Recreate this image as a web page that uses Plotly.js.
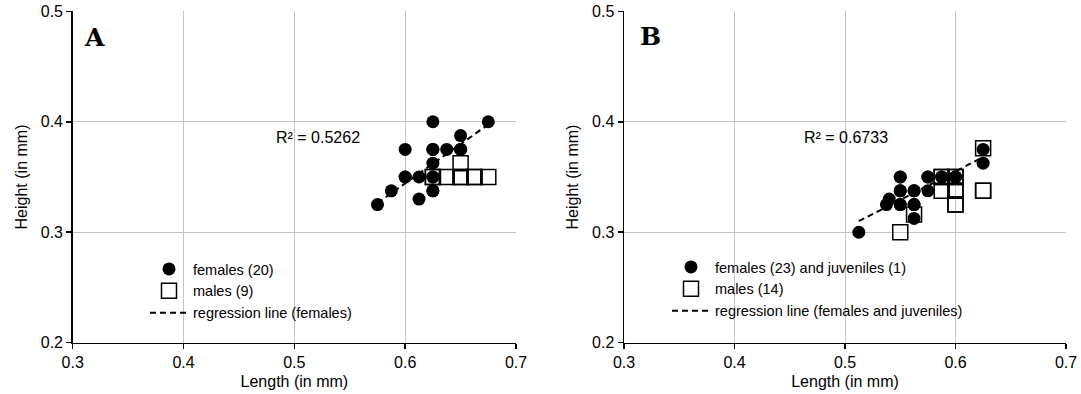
<!DOCTYPE html>
<html>
<head>
<meta charset="utf-8">
<script src="https://cdn.plot.ly/plotly-3.0.1.min.js"></script>
<style>html,body{margin:0;padding:0;background:#fff;}#chart{width:1081px;height:394px;}</style>
</head>
<body>
<div id="chart"></div>
<script>
// Panel A data
const femalesA_len = [0.575, 0.5875, 0.6, 0.6, 0.6125, 0.6125, 0.625, 0.625, 0.625, 0.625, 0.625, 0.6375, 0.65, 0.65, 0.675, 0.625, 0.6, 0.625, 0.625, 0.65];
const femalesA_ht  = [0.325, 0.3375, 0.35, 0.375, 0.35, 0.33, 0.3375, 0.35, 0.3625, 0.375, 0.4, 0.375, 0.375, 0.3875, 0.4, 0.35, 0.35, 0.375, 0.3375, 0.375];
const malesA_len = [0.625, 0.6375, 0.65, 0.6625, 0.675, 0.65, 0.65, 0.6625, 0.625];
const malesA_ht  = [0.35, 0.35, 0.35, 0.35, 0.35, 0.3625, 0.35, 0.35, 0.35];
const regA_len = [0.575, 0.675];
const regA_ht  = [0.3265, 0.3975];
const r2A = "R² = 0.5262";

// Panel B data
const femalesB_len = [0.5125, 0.5375, 0.54, 0.55, 0.55, 0.55, 0.5625, 0.5625, 0.5625, 0.575, 0.575, 0.5875, 0.6, 0.625, 0.625, 0.55, 0.55, 0.5625, 0.575, 0.5875, 0.6, 0.6, 0.55, 0.5625];
const femalesB_ht  = [0.3, 0.325, 0.33, 0.35, 0.3375, 0.325, 0.3375, 0.325, 0.3125, 0.35, 0.3375, 0.35, 0.35, 0.375, 0.3625, 0.3375, 0.325, 0.3375, 0.35, 0.35, 0.35, 0.35, 0.35, 0.325];
const malesB_len = [0.55, 0.5625, 0.5875, 0.6, 0.5875, 0.6, 0.6, 0.625, 0.625, 0.6, 0.5875, 0.6, 0.625, 0.6];
const malesB_ht  = [0.3, 0.316, 0.35, 0.35, 0.3375, 0.3375, 0.325, 0.3375, 0.376, 0.35, 0.35, 0.3375, 0.3375, 0.325];
const regB_len = [0.5125, 0.625];
const regB_ht  = [0.31, 0.368];
const r2B = "R² = 0.6733";

const xTicks = [0.3, 0.4, 0.5, 0.6, 0.7];
const yTicks = [0.2, 0.3, 0.4, 0.5];
const xTitle = "Length (in mm)";
const yTitle = "Height (in mm)";
const labelsA = ["females (20)", "males (9)", "regression line (females)"];
const labelsB = ["females (23) and juveniles (1)", "males (14)", "regression line (females and juveniles)"];

const FONT = "Arial, Liberation Sans, sans-serif";
const SERIF = "DejaVu Serif, serif";
const circ = {symbol: 'circle', size: 13, color: '#000', line: {width: 0}};
const sq = {symbol: 'square-open', size: 15, color: '#000', line: {width: 1.5, color: '#000'}};
const dl = {color: '#000', width: 2, dash: '6px,4px'};

const traces = [
  {x: regA_len, y: regA_ht, mode: 'lines', line: dl, name: labelsA[2], legend: 'legend', legendrank: 3, xaxis: 'x', yaxis: 'y'},
  {x: femalesA_len, y: femalesA_ht, mode: 'markers', marker: circ, name: labelsA[0], legend: 'legend', legendrank: 1, xaxis: 'x', yaxis: 'y'},
  {x: malesA_len, y: malesA_ht, mode: 'markers', marker: sq, name: labelsA[1], legend: 'legend', legendrank: 2, xaxis: 'x', yaxis: 'y'},
  {x: regB_len, y: regB_ht, mode: 'lines', line: dl, name: labelsB[2], legend: 'legend2', legendrank: 3, xaxis: 'x2', yaxis: 'y2'},
  {x: femalesB_len, y: femalesB_ht, mode: 'markers', marker: circ, name: labelsB[0], legend: 'legend2', legendrank: 1, xaxis: 'x2', yaxis: 'y2'},
  {x: malesB_len, y: malesB_ht, mode: 'markers', marker: sq, name: labelsB[1], legend: 'legend2', legendrank: 2, xaxis: 'x2', yaxis: 'y2'}
];

function xax(dom, anchor) {
  return {domain: dom, anchor: anchor, range: [0.3, 0.7], tickvals: xTicks, ticktext: xTicks.map(v => v.toFixed(1)),
    showgrid: true, gridcolor: '#c4c4c4', gridwidth: 1, zeroline: false, showline: true, linecolor: '#000', linewidth: 1.5,
    ticks: 'outside', ticklen: 5, tickcolor: '#000', tickwidth: 1.5, tickfont: {size: 16, color: '#000', family: FONT},
    title: {text: xTitle, font: {size: 16, color: '#000', family: FONT}, standoff: 5}, automargin: false, fixedrange: true};
}
function yax(dom, anchor) {
  return {domain: dom, anchor: anchor, range: [0.2, 0.5], tickvals: yTicks, ticktext: yTicks.map(v => v.toFixed(1)),
    showgrid: true, gridcolor: '#c4c4c4', gridwidth: 1, zeroline: false, showline: true, linecolor: '#000', linewidth: 1.5,
    ticks: 'outside', ticklen: 5, tickcolor: '#000', tickwidth: 1.5, tickfont: {size: 16, color: '#000', family: FONT},
    title: {text: yTitle, font: {size: 16, color: '#000', family: FONT}, standoff: 9}, automargin: false, fixedrange: true};
}

const ydom = [(394 - 342.7) / 394, (394 - 11.3) / 394];
const layout = {
  width: 1081, height: 394,
  margin: {l: 0, r: 0, t: 0, b: 0},
  paper_bgcolor: '#fff', plot_bgcolor: '#fff',
  font: {family: FONT, color: '#000'},
  showlegend: true,
  xaxis: xax([72.7 / 1081, 516 / 1081], 'y'),
  yaxis: yax(ydom, 'x'),
  xaxis2: xax([624 / 1081, 1066 / 1081], 'y2'),
  yaxis2: yax(ydom, 'x2'),
  legend: {x: 145 / 1081, y: 1 - 253 / 394, xanchor: 'left', yanchor: 'top', bgcolor: 'rgba(0,0,0,0)', borderwidth: 0,
    font: {size: 14.5, family: FONT, color: '#000'}, traceorder: 'normal', itemwidth: 38},
  legend2: {x: 667 / 1081, y: 1 - 251 / 394, xanchor: 'left', yanchor: 'top', bgcolor: 'rgba(0,0,0,0)', borderwidth: 0,
    font: {size: 14.5, family: FONT, color: '#000'}, traceorder: 'normal', itemwidth: 38},
  annotations: [
    {xref: 'paper', yref: 'paper', x: 94 / 1081, y: 1 - 37 / 394, text: '<b>A</b>', showarrow: false, xanchor: 'center', yanchor: 'middle',
      font: {family: SERIF, size: 25, color: '#000'}},
    {xref: 'paper', yref: 'paper', x: 650 / 1081, y: 1 - 36 / 394, text: '<b>B</b>', showarrow: false, xanchor: 'center', yanchor: 'middle',
      font: {family: SERIF, size: 25, color: '#000'}},
    {xref: 'paper', yref: 'paper', x: 317.5 / 1081, y: 1 - 137 / 394, text: r2A, showarrow: false, xanchor: 'center', yanchor: 'middle',
      font: {family: FONT, size: 16, color: '#000'}},
    {xref: 'paper', yref: 'paper', x: 845.5 / 1081, y: 1 - 137 / 394, text: r2B, showarrow: false, xanchor: 'center', yanchor: 'middle',
      font: {family: FONT, size: 16, color: '#000'}}
  ]
};

Plotly.newPlot('chart', traces, layout, {displayModeBar: false, staticPlot: true});
</script>
</body>
</html>
